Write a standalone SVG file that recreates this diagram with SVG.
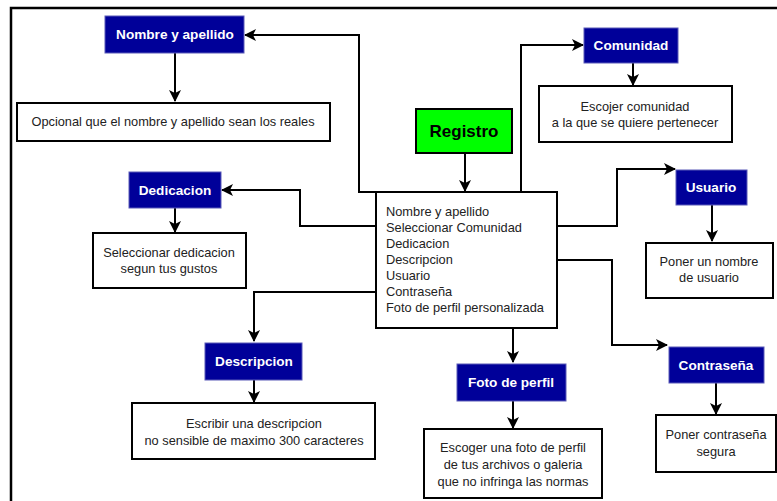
<svg xmlns="http://www.w3.org/2000/svg" width="777" height="501" viewBox="0 0 777 501">
<defs>
<style>
.hdr{fill:#000099;stroke:#5a5ab8;stroke-width:1}
.ht{font-family:"Liberation Sans",Arial,sans-serif;font-size:13.6px;font-weight:bold;fill:#fff;text-anchor:middle}
.box{fill:#fff;stroke:#000;stroke-width:2}
.bt{font-family:"Liberation Sans",Arial,sans-serif;font-size:12.8px;fill:#222;text-anchor:middle}
.lt{font-family:"Liberation Sans",Arial,sans-serif;font-size:12.8px;fill:#222}
.con{fill:none;stroke:#000;stroke-width:2;marker-end:url(#ah)}
</style>
<marker id="ah" viewBox="0 0 12 12" refX="11" refY="6" markerWidth="12" markerHeight="12" markerUnits="userSpaceOnUse" orient="auto">
<path d="M0,0 L12,6 L0,12 L3,6 Z" fill="#000"/>
</marker>
</defs>
<rect x="0" y="0" width="777" height="501" fill="#fff"/>
<path d="M11,510 V8 H790" fill="none" stroke="#000" stroke-width="2.5"/>

<g id="connectors">
<path class="con" d="M465,153 V191"/>
<path class="con" d="M376,192 H359 V35 H245"/>
<path class="con" d="M521,192 V45 H583"/>
<path class="con" d="M557,226 H617 V169 H675"/>
<path class="con" d="M557,260 H612 V345 H667"/>
<path class="con" d="M513,328 V362"/>
<path class="con" d="M376,292 H254 V341"/>
<path class="con" d="M376,226 H300 V190 H222"/>
<path class="con" d="M175,53 V101"/>
<path class="con" d="M633,63 V85"/>
<path class="con" d="M712,205 V241"/>
<path class="con" d="M716,383 V414"/>
<path class="con" d="M513,401 V428"/>
<path class="con" d="M254,380 V402"/>
<path class="con" d="M175,208 V232"/>
</g>

<g id="registro">
<rect x="416" y="109" width="96" height="44" fill="#00ff00" stroke="#000" stroke-width="2"/>
<text x="464" y="137" font-family="'Liberation Sans',Arial,sans-serif" font-size="17" font-weight="bold" text-anchor="middle" fill="#000">Registro</text>
</g>

<g id="main">
<rect class="box" x="376" y="192" width="181" height="136"/>
<text class="lt" x="386" y="216">Nombre y apellido</text>
<text class="lt" x="386" y="232">Seleccionar Comunidad</text>
<text class="lt" x="386" y="248">Dedicacion</text>
<text class="lt" x="386" y="264">Descripcion</text>
<text class="lt" x="386" y="280">Usuario</text>
<text class="lt" x="386" y="296">Contraseña</text>
<text class="lt" x="386" y="312">Foto de perfil personalizada</text>
</g>

<g id="nombre">
<rect class="hdr" x="105" y="16" width="139" height="37"/>
<text class="ht" x="175" y="39">Nombre y apellido</text>
</g>
<g id="nombre-desc">
<rect class="box" x="17" y="103" width="313" height="38"/>
<text class="bt" x="173" y="126">Opcional que el nombre y apellido sean los reales</text>
</g>

<g id="comunidad">
<rect class="hdr" x="584" y="28" width="94" height="35"/>
<text class="ht" x="631" y="50">Comunidad</text>
</g>
<g id="comunidad-desc">
<rect class="box" x="539" y="86" width="193" height="56"/>
<text class="bt" x="635" y="111">Escojer comunidad</text>
<text class="bt" x="635" y="127">a la que se quiere pertenecer</text>
</g>

<g id="usuario">
<rect class="hdr" x="676" y="170" width="71" height="35"/>
<text class="ht" x="711" y="192">Usuario</text>
</g>
<g id="usuario-desc">
<rect class="box" x="646" y="243" width="127" height="55"/>
<text class="bt" x="709" y="266">Poner un nombre</text>
<text class="bt" x="709" y="282">de usuario</text>
</g>

<g id="dedicacion">
<rect class="hdr" x="129" y="172" width="92" height="36"/>
<text class="ht" x="175" y="195">Dedicacion</text>
</g>
<g id="dedicacion-desc">
<rect class="box" x="93" y="233" width="153" height="55"/>
<text class="bt" x="169" y="257">Seleccionar dedicacion</text>
<text class="bt" x="169" y="273">segun tus gustos</text>
</g>

<g id="descripcion">
<rect class="hdr" x="205" y="343" width="97" height="37"/>
<text class="ht" x="254" y="366">Descripcion</text>
</g>
<g id="descripcion-desc">
<rect class="box" x="132" y="403" width="243" height="56"/>
<text class="bt" x="254" y="428">Escribir una descripcion</text>
<text class="bt" x="254" y="445">no sensible de maximo 300 caracteres</text>
</g>

<g id="foto">
<rect class="hdr" x="457" y="364" width="109" height="37"/>
<text class="ht" x="511" y="387">Foto de perfil</text>
</g>
<g id="foto-desc">
<rect class="box" x="424" y="429" width="178" height="69"/>
<text class="bt" x="513" y="452">Escoger una foto de perfil</text>
<text class="bt" x="513" y="469">de tus archivos o galeria</text>
<text class="bt" x="513" y="486">que no infringa las normas</text>
</g>

<g id="contrasena">
<rect class="hdr" x="669" y="347" width="95" height="36"/>
<text class="ht" x="716" y="370">Contraseña</text>
</g>
<g id="contrasena-desc">
<rect class="box" x="656" y="415" width="120" height="57"/>
<text class="bt" x="716" y="439">Poner contraseña</text>
<text class="bt" x="716" y="456">segura</text>
</g>
</svg>
